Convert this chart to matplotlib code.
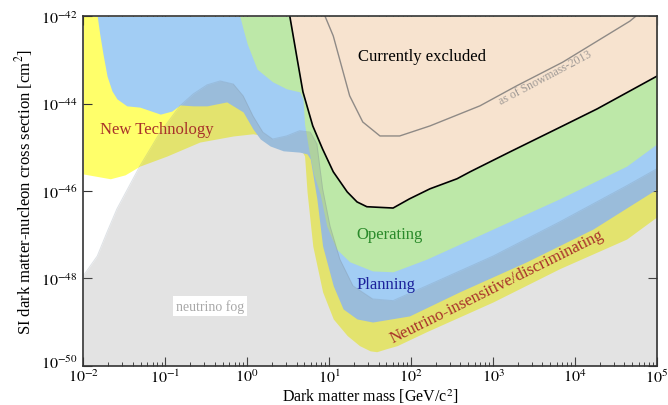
import numpy as np
import matplotlib
matplotlib.use("Agg")
import matplotlib.pyplot as plt
from matplotlib.transforms import ScaledTranslation

plt.rcParams['font.family'] = 'serif'
plt.rcParams['font.serif'] = ['Liberation Serif', 'DejaVu Serif']
plt.rcParams['mathtext.fontset'] = 'stix'

# ---- data (log10 mass [GeV], log10 cross section [cm^2]) ----
newtech_logm = [-2.0, -1.67, -1.49, -1.31, -0.98, -0.58, -0.17, 0.07, 0.44, 0.64, 0.70,
                0.73, 0.80, 0.92, 1.05, 1.22, 1.37, 1.50, 1.58, 1.70, 1.83, 2.19, 3.00,
                3.81, 4.63, 5.0]
newtech_logs = [-45.61, -45.72, -45.63, -45.43, -45.20, -44.88, -44.74, -44.69, -44.81,
                -44.99, -45.20, -46.02, -47.26, -48.31, -48.93, -49.31, -49.54, -49.66,
                -49.68, -49.61, -49.54, -49.22, -48.54, -47.78, -47.10, -46.59]

planning_logm = [-1.83, -1.80, -1.76, -1.71, -1.65, -1.59, -1.47, -1.31, -1.06, -0.92,
                 -0.82, -0.66, -0.49, -0.25, -0.05, 0.07, 0.16, 0.28, 0.44, 0.64, 0.73,
                 0.77, 0.85, 0.92, 1.05, 1.17, 1.34, 1.53, 1.98, 2.59, 3.41, 4.22, 5.0]
planning_logs = [-42.0, -42.40, -42.86, -43.37, -43.71, -43.89, -44.05, -44.08, -44.24,
                 -44.17, -44.03, -44.05, -44.05, -43.96, -44.19, -44.58, -44.81, -44.97,
                 -45.08, -45.11, -45.15, -45.27, -46.18, -47.26, -48.17, -48.70, -48.93,
                 -49.00, -48.86, -48.31, -47.62, -46.87, -45.95]

operating_logm = [-0.09, -0.05, 0.0, 0.12, 0.31, 0.48, 0.64, 0.68, 0.70, 0.75, 0.81, 0.89,
                  0.97, 1.09, 1.25, 1.53, 1.78, 2.19, 3.00, 3.81, 4.63, 5.0]
operating_logs = [-42.0, -42.29, -42.63, -43.21, -43.50, -43.66, -43.73, -43.89, -44.47,
                  -45.04, -45.61, -46.07, -46.80, -47.33, -47.62, -47.83, -47.85, -47.56,
                  -46.87, -46.18, -45.43, -44.92]

excluded_logm = [0.52, 0.61, 0.68, 0.80, 0.92, 1.05, 1.22, 1.34, 1.46, 1.78, 1.98, 2.23,
                 2.56, 2.72, 3.20, 3.85, 4.27, 5.0]
excluded_logs = [-42.0, -42.98, -43.73, -44.51, -45.04, -45.56, -46.02, -46.25, -46.36,
                 -46.39, -46.18, -45.95, -45.72, -45.56, -45.11, -44.51, -44.12, -43.37]

snowmass_logm = [0.95, 1.05, 1.25, 1.41, 1.62, 1.86, 2.23, 2.84, 3.29, 3.85, 4.67, 4.74]
snowmass_logs = [-42.0, -42.45, -43.82, -44.42, -44.74, -44.74, -44.51, -44.05, -43.59,
                 -43.05, -42.11, -42.0]

fog_logm = [-2.0, -1.83, -1.71, -1.59, -1.31, -1.06, -0.82, -0.66, -0.49, -0.33, -0.17,
            -0.05, 0.07, 0.19, 0.31, 0.48, 0.64, 0.77, 0.85, 0.92, 1.01, 1.13, 1.29,
            1.53, 1.78, 2.19, 3.00, 3.81, 4.63, 5.0]
fog_logs = [-47.94, -47.49, -46.94, -46.41, -45.43, -44.65, -44.05, -43.78, -43.57, -43.48,
            -43.55, -43.82, -44.28, -44.65, -44.81, -44.74, -44.62, -44.65, -44.92, -45.95,
            -46.80, -47.56, -48.17, -48.47, -48.51, -48.17, -47.49, -46.71, -45.88, -45.49]

xtick_exps = [-2, -1, 0, 1, 2, 3, 4, 5]
ytick_exps = [-50, -48, -46, -44, -42]

# ---- colours ----
c_yellow = '#ffff6a'
c_blue = '#a2cdf4'
c_green = '#bde8a8'
c_tan = '#f7e3cf'
c_fog = '#808080'
c_red = '#a8322a'

def p10(a):
    return 10.0 ** np.asarray(a, dtype=float)

fig = plt.figure(figsize=(6.68, 4.06), dpi=100)
ax = fig.add_axes([0.1247, 0.0968, 0.8588, 0.8606])
ax.set_xscale('log')
ax.set_yscale('log')
ax.set_xlim(1e-2, 1e5)
ax.set_ylim(1e-50, 1e-42)

top = 1e-42
ax.fill_between(p10(newtech_logm), p10(newtech_logs), top, color=c_yellow, lw=0, zorder=1)
ax.fill_between(p10(planning_logm), p10(planning_logs), top, color=c_blue, lw=0, zorder=2)
ax.fill_between(p10(operating_logm), p10(operating_logs), top, color=c_green, lw=0, zorder=3)
ax.fill_between(p10(excluded_logm), p10(excluded_logs), top, color=c_tan, lw=0, zorder=4)
ax.fill_between(p10(fog_logm), 1e-50, p10(fog_logs), color=c_fog, alpha=0.22, lw=0, zorder=5)
ax.plot(p10(fog_logm), p10(fog_logs), color='#7a8a9a', alpha=0.25, lw=0.7, zorder=5)

ax.plot(p10(excluded_logm), p10(excluded_logs), color='black', lw=1.2, zorder=6)
ax.plot(p10(snowmass_logm), p10(snowmass_logs), color='#8f8a86', lw=1.0, zorder=6)

# labels
ax.text(10**2.13, 10**-42.91, 'Currently excluded', fontsize=12, color='black',
        ha='center', va='center', zorder=7)
ax.text(10**-1.10, 10**-44.58, 'New Technology', fontsize=12, color=c_red,
        ha='center', va='center', zorder=7)
ax.text(10**1.74, 10**-46.98, 'Operating', fontsize=12, color='#2a8a2a',
        ha='center', va='center', zorder=7)
ax.text(10**1.69, 10**-48.12, 'Planning', fontsize=12, color='#1c229c',
        ha='center', va='center', zorder=7)
ax.text(10**3.04, 10**-48.17, 'Neutrino-insensitive/discriminating', fontsize=12,
        color=c_red, ha='center', va='center', rotation=26.5, rotation_mode='anchor', zorder=7)
ax.text(10**3.63, 10**-43.39, 'as of Snowmass-2013', fontsize=8.5, color='#a09a96',
        ha='center', va='center', rotation=28, rotation_mode='anchor', zorder=7)
ax.text(10**-0.45, 10**-48.63, 'neutrino fog', fontsize=10, color='#a8a8a8',
        ha='center', va='center', zorder=7,
        bbox=dict(boxstyle='square,pad=0.2', fc='white', ec='none'))

# ticks
ax.set_xticks([10.0**e for e in xtick_exps])
ax.set_xticklabels([r'$10^{%d}$' % e for e in xtick_exps])
ax.set_yticks([10.0**e for e in ytick_exps])
ax.set_yticklabels([r'$10^{%d}$' % e for e in ytick_exps])
ax.xaxis.set_minor_locator(matplotlib.ticker.LogLocator(base=10, subs=np.arange(2, 10), numticks=20))
ax.xaxis.set_minor_formatter(matplotlib.ticker.NullFormatter())
ax.yaxis.set_minor_locator(matplotlib.ticker.NullLocator())
ax.tick_params(which='both', direction='in', top=True, right=True, labelsize=11.5,
               color='#333333', zorder=8)
ax.tick_params(which='major', length=6.5, width=0.8)
ax.tick_params(axis='x', which='major', pad=2)
ax.tick_params(axis='y', which='major', pad=4)
ax.tick_params(which='minor', length=3.2, width=0.7)
for sp in ax.spines.values():
    sp.set_linewidth(1.2)
    sp.set_color('#333333')
    sp.set_zorder(9)

# nudge the lowest y tick label up a little so it clears the first x tick label
lbl = ax.get_yticklabels()[0]
lbl.set_transform(lbl.get_transform() + ScaledTranslation(0, 3.0 / 72, fig.dpi_scale_trans))

ax.set_xlabel(r'Dark matter mass [GeV/c$^2$]', fontsize=11.5)
ax.set_ylabel(r'SI dark matter-nucleon cross section [cm$^2$]', fontsize=12)
ax.xaxis.set_label_coords(0.5, -0.06)
ax.yaxis.set_label_coords(-0.085, 0.5)

fig.savefig('out.png', dpi=100)
